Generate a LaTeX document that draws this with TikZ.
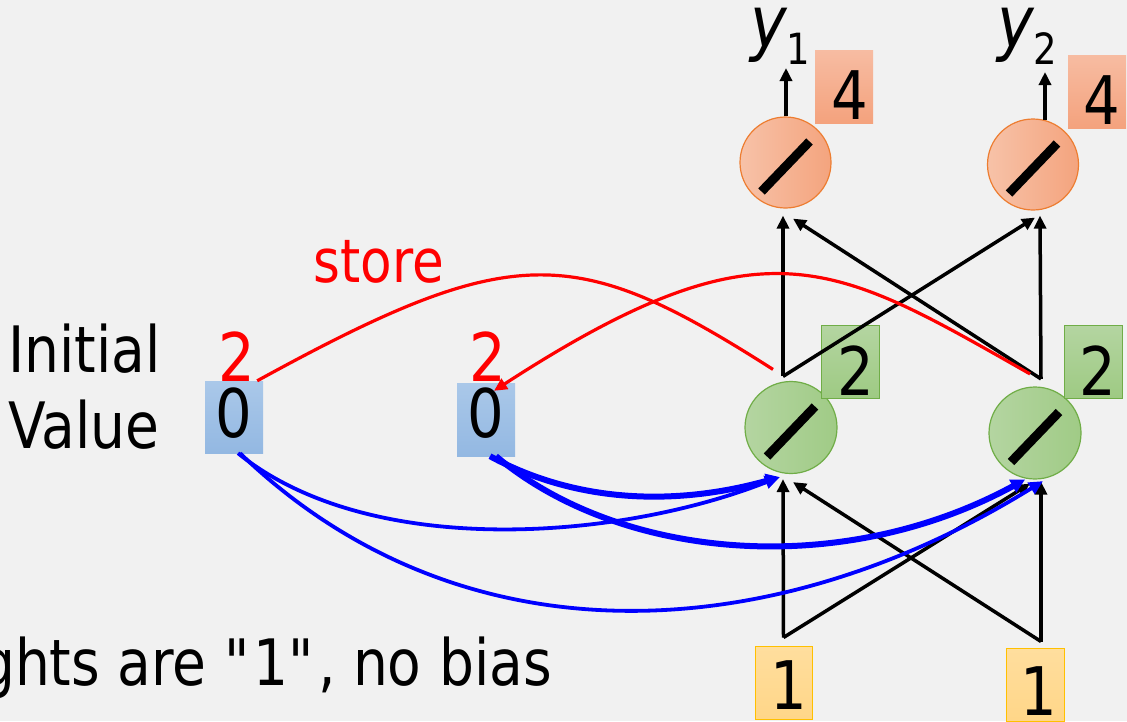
\documentclass[tikz,border=0pt]{standalone}
\usepackage{fontspec}
\setmainfont{DejaVu Sans}[FakeStretch=0.86]
\usetikzlibrary{arrows.meta}
\definecolor{bg}{HTML}{F1F1F1}
\definecolor{orL}{HTML}{F7C2A8}
\definecolor{orR}{HTML}{F4A47E}
\definecolor{orB}{HTML}{ED7D31}
\definecolor{obT}{HTML}{F7BCA2}
\definecolor{obB}{HTML}{F4A27D}
\definecolor{grL}{HTML}{B4D5A1}
\definecolor{grR}{HTML}{A0CB86}
\definecolor{grB}{HTML}{70AD47}
\definecolor{gbT}{HTML}{B4D5A1}
\definecolor{gbB}{HTML}{9ECA83}
\definecolor{ybT}{HTML}{FFDE9E}
\definecolor{ybB}{HTML}{FFD688}
\definecolor{ybD}{HTML}{FFC000}
\definecolor{bbT}{HTML}{AAC8E9}
\definecolor{bbB}{HTML}{93B8E2}
\begin{document}
\begin{tikzpicture}[x=1pt,y=-1pt,
  ocirc/.style={circle, minimum size=91pt, inner sep=0pt, draw=orB, line width=1.2pt, left color=orL, right color=orR},
  gcirc/.style={circle, minimum size=92pt, inner sep=0pt, draw=grB, line width=1.2pt, left color=grL, right color=grR},
  obox/.style={rectangle, minimum width=58pt, minimum height=73pt, inner sep=0pt, top color=obT, bottom color=obB},
  gbox/.style={rectangle, minimum width=58pt, minimum height=73pt, inner sep=0pt, draw=grB, line width=0.8pt, top color=gbT, bottom color=gbB},
  ybox/.style={rectangle, minimum width=57pt, minimum height=73pt, inner sep=0pt, draw=ybD, line width=1pt, top color=ybT, bottom color=ybB},
  bbox/.style={rectangle, minimum width=58pt, minimum height=72pt, inner sep=0pt, top color=bbT, bottom color=bbB},
  num/.style={font=\fontsize{67}{67}\selectfont, inner sep=0pt},
  lbl/.style={font=\fontsize{64}{70}\selectfont, inner sep=0pt},
  slashln/.style={line width=9pt, black},
  blk/.style={draw=black, line width=3.5pt, -{Triangle[length=13pt,width=12pt]}},
  bthin/.style={draw=blue, line width=3.8pt, -{Triangle[length=14pt,width=13pt]}},
  bthick/.style={draw=blue, line width=6pt, -{Triangle[length=14pt,width=14pt]}},
  redln/.style={draw=red, line width=3.2pt},
]
\useasboundingbox (0,0) rectangle (1127,721);
\fill[bg] (0,0) rectangle (1127,721);

% neurons
\node[ocirc] (o1) at (785.5,162.5) {};
\node[ocirc] (o2) at (1033,164.5) {};
\node[gcirc] (h1) at (791,427.5) {};
\node[gcirc] (h2) at (1035,433) {};
\foreach \n in {o1,o2,h1,h2}{
  \draw[slashln] ([shift={(-24pt,-29pt)}]\n.center) -- ([shift={(24pt,21pt)}]\n.center);
}

% value boxes
\node[obox] (ob1) at (844,87) {};
\node[obox] (ob2) at (1097,91.5) {};
\node[gbox] (gb1) at (850,361.5) {};
\node[gbox] (gb2) at (1093,361.5) {};
\node[ybox] (in1) at (783.5,682.5) {};
\node[ybox, minimum width=58pt] (in2) at (1035,684.5) {};
\node[bbox] (v1) at (234,417) {};
\node[bbox, minimum height=73pt] (v2) at (486,419.5) {};

\node[num] (tob1) at (850,95) {4};
\node[num] (tob2) at (1102,100) {4};
\node[num] (tgb1) at (855.5,371) {2};
\node[num] (tgb2) at (1098,371) {2};
\node[num] (tin1) at (789,685.5) {1};
\node[num] (tin2) at (1038.5,691) {1};
\node[num] (tv1) at (234,413) {0};
\node[num] (tv2) at (486,413.5) {0};

% output labels
\node[inner sep=0pt, anchor=base west, font=\fontsize{72}{72}\selectfont] (y1) at (750,47) {\itshape y\upshape\raisebox{-17pt}{\fontsize{43}{43}\selectfont 1}};
\node[inner sep=0pt, anchor=base west, font=\fontsize{72}{72}\selectfont] (y2) at (997,47) {\itshape y\upshape\raisebox{-17pt}{\fontsize{43}{43}\selectfont 2}};
\coordinate (y1tip) at (786,68);
\coordinate (y2tip) at (1045,72);

% texts
\node[lbl, anchor=base west] (tinit) at (8,372) {Initial};
\node[lbl, anchor=base west] (tval) at (8,448) {Value};
\node[font=\fontsize{60}{60}\selectfont, inner sep=0pt, anchor=base, text=red] (tstore) at (379,282) {store};
\node[lbl, anchor=base east] (tnote) at (552,685) {ghts are \textquotedbl 1\textquotedbl, no bias};

% black connectors
\draw[blk] (o1.north -| y1tip) -- (y1tip);
\draw[blk] ([xshift=12pt,yshift=-1.5pt]o2.north) -- (y2tip);
\draw[blk] ([xshift=-8pt,yshift=4.5pt]h1.north) -- ([xshift=-2.5pt,yshift=-7pt]o1.south);
\draw[blk] ([xshift=-8pt,yshift=4.5pt]h1.north) -- ([xshift=2pt,yshift=-7pt]o2.south);
\draw[blk] ([xshift=6pt,yshift=7.5pt]h2.north) -- ([xshift=7.5pt,yshift=-10pt]o1.south);
\draw[blk] ([xshift=6pt,yshift=7.5pt]h2.north) -- ([xshift=7pt,yshift=-5pt]o2.south);
\draw[blk] ([yshift=8pt]in1.north) -- ([xshift=-8pt,yshift=-5pt]h1.south);
\draw[blk] ([yshift=8pt]in1.north) -- ([xshift=-5pt,yshift=-4pt]h2.south);
\draw[blk] ([xshift=6pt,yshift=6pt]in2.north) -- ([xshift=2pt,yshift=-8pt]h1.south);
\draw[blk] ([xshift=6pt,yshift=6pt]in2.north) -- ([xshift=6pt,yshift=-2pt]h2.south);

% red store curves
\draw[redln] ([xshift=-6pt]v1.north east) .. controls (514,240) and (575,243) .. ([xshift=-18pt,yshift=11.5pt]h1.north);
\draw[redln, -{Triangle[length=13pt,width=12pt]}] ([xshift=-5pt,yshift=12.5pt]h2.north) .. controls (834,263) and (765,215) .. ([xshift=8pt,yshift=-8pt]v2.north);
\node[num, text=red] (r1) at (237,357) {2};
\node[num, text=red] (r2) at (488,357) {2};

% blue memory connectors
\draw[bthin] ([xshift=4pt]v1.south) .. controls (370,560) and (620,540) .. ([xshift=-12pt,yshift=-3pt]h1.south);
\draw[bthin] ([xshift=6pt]v1.south) .. controls (460,665) and (770,650) .. ([xshift=8pt,yshift=-1.5pt]h2.south);
\draw[bthick] ([xshift=4pt]v2.south) .. controls (580,505) and (680,505) .. ([xshift=-11pt,yshift=-3pt]h1.south);
\draw[bthick] ([xshift=10pt]v2.south) .. controls (620,560) and (840,580) .. ([xshift=-10pt]h2.south);
\end{tikzpicture}
\end{document}
